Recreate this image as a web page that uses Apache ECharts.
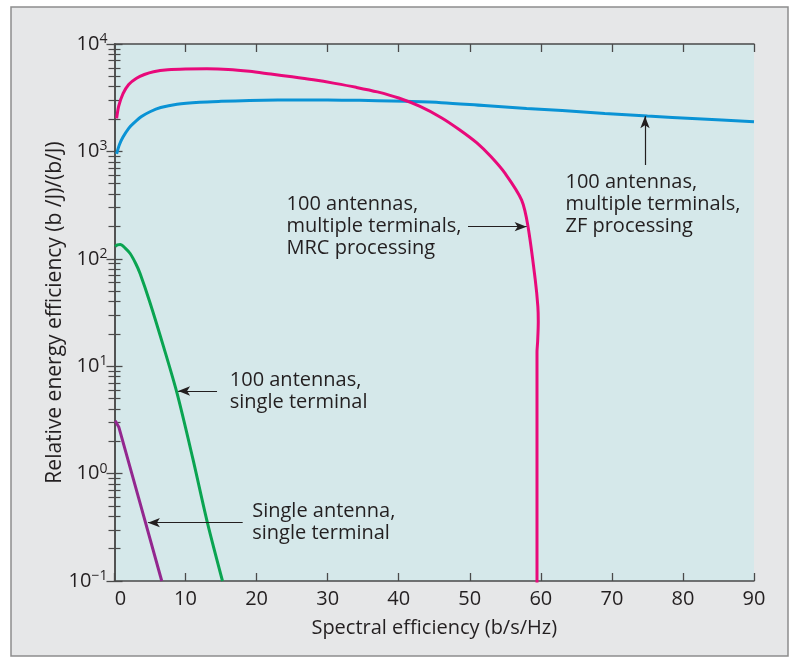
<!DOCTYPE html>
<html>
<head>
<meta charset="utf-8">
<script src="https://cdn.jsdelivr.net/npm/echarts@6/dist/echarts.min.js"></script>
<style>
html,body{margin:0;padding:0;background:#fff;}
#chart{width:797px;height:660px;}
</style>
</head>
<body>
<div id="chart"></div>
<script>
// ---- data ----
const xTicks = [0, 10, 20, 30, 40, 50, 60, 70, 80, 90];
const yTicks = [0.1, 1, 10, 100, 1000, 10000];

const zfX = [0.3, 0.7, 1.2, 2, 2.7, 3.8, 5, 6.5, 8.8, 12, 15, 19, 23, 28, 32, 37, 41, 46, 52, 58, 63, 69, 75, 82, 90];
const zfY = [950, 1160, 1360, 1640, 1830, 2110, 2340, 2560, 2750, 2870, 2925, 2975, 3005, 3010, 3000, 2970, 2925, 2845, 2670, 2510, 2400, 2255, 2135, 2015, 1890];

const mrcX = [0.3, 0.6, 1.2, 2, 3.1, 4.2, 5.5, 7.5, 10, 13, 16, 19, 22, 25, 28, 31, 34, 37, 40, 43, 46, 48.5, 51, 53, 55, 57.3, 58.2, 59.2, 59.58, 59.64, 59.55, 59.46, 59.46];
const mrcY = [2030, 2650, 3450, 4200, 4800, 5200, 5520, 5750, 5850, 5870, 5800, 5570, 5250, 4950, 4640, 4300, 3950, 3580, 3140, 2620, 2060, 1600, 1200, 890, 620, 352, 199, 65, 36, 26, 17, 13.5, 0.01];

const singleTermX = [0.1, 0.4, 0.8, 1.5, 2.2, 3, 3.6, 5, 6.9, 8.8, 11, 13.1, 15.2];
const singleTermY = [130, 135, 136, 126, 112, 90, 73, 39, 15.2, 5.6, 1.4, 0.344, 0.1];

const singleAntX = [0.1, 0.6, 3.6, 6.65];
const singleAntY = [3.1, 2.72, 0.53, 0.1];

const labelZF = '100 antennas,\nmultiple terminals,\nZF processing';
const labelMRC = '100 antennas,\nmultiple terminals,\nMRC processing';
const labelST = '100 antennas,\nsingle terminal';
const labelSA = 'Single antenna,\nsingle terminal';
const xName = 'Spectral efficiency (b/s/Hz)';
const yName = 'Relative energy efficiency (b /J)/(b/J)';

// ---- chart ----
const pairs = (xs, ys) => xs.map((x, i) => [x, ys[i]]);
const TXT = '#231f20';
const AX = '#4a4a4a';
const AXFONT = '"Open Sans", sans-serif';
const ANFONT = '"Open Sans", sans-serif';

function arrowLine(x1, y1, x2, y2) {
  return [{ coord: [x1, y1] }, { coord: [x2, y2] }];
}
function textPoint(x, y, text) {
  return {
    coord: [x, y], symbol: 'circle', symbolSize: 1,
    itemStyle: { color: 'rgba(0,0,0,0)' },
    label: {
      show: true, position: 'right', distance: 0, formatter: text,
      color: TXT, fontFamily: ANFONT, fontSize: 20, lineHeight: 22, align: 'left'
    }
  };
}
const markLineBase = {
  silent: true, symbol: ['none', 'arrow'], symbolSize: [7, 12],
  label: { show: false },
  lineStyle: { color: TXT, width: 1.2, type: 'solid' },
  emphasis: { disabled: true }
};
const markPointBase = { silent: true, emphasis: { disabled: true } };

const supMap = { '4': '4', '3': '3', '2': '2', '1': '1', '0': '0', '-1': '\u22121' };

const chart = echarts.init(document.getElementById('chart'), null, { renderer: 'canvas' });
chart.setOption({
  backgroundColor: '#ffffff',
  animation: false,
  graphic: [{
    type: 'rect', z: -10, silent: true,
    shape: { x: 11, y: 7, width: 777, height: 649 },
    style: { fill: '#e6e7e8', stroke: '#8d8d8d', lineWidth: 1.5 }
  }],
  grid: {
    left: 114.5, right: 43, top: 44, bottom: 79,
    show: true, backgroundColor: '#d5e8ea', borderWidth: 0
  },
  xAxis: [{
    type: 'value', min: xTicks[0], max: xTicks[xTicks.length - 1], interval: 10, position: 'bottom',
    name: xName, nameLocation: 'middle', nameGap: 37,
    nameTextStyle: { color: TXT, fontFamily: AXFONT, fontSize: 20 },
    axisLine: { show: true, lineStyle: { color: AX, width: 1.5 } },
    axisTick: { show: true, inside: true, length: 8, lineStyle: { color: AX, width: 1.3 } },
    splitLine: { show: false },
    axisLabel: {
      color: TXT, fontFamily: AXFONT, fontSize: 20, margin: 8,
      formatter: v => (v === 0 ? '{z|0}' : String(v)),
      rich: { z: { fontFamily: AXFONT, fontSize: 20, color: TXT, padding: [0, 0, 0, 12] } }
    }
  }, {
    type: 'value', min: xTicks[0], max: xTicks[xTicks.length - 1], interval: 10, position: 'top',
    axisLine: { show: true, lineStyle: { color: AX, width: 1.5 } },
    axisTick: { show: true, inside: true, length: 8, lineStyle: { color: AX, width: 1.3 } },
    splitLine: { show: false }, axisLabel: { show: false }
  }],
  yAxis: [{
    type: 'log', logBase: 10, min: yTicks[0], max: yTicks[yTicks.length - 1], position: 'left',
    name: yName, nameLocation: 'middle', nameGap: 49, nameMoveOverlap: false,
    nameTextStyle: { color: TXT, fontFamily: AXFONT, fontSize: 21 },
    axisLine: { show: true, lineStyle: { color: AX, width: 1.5 } },
    axisTick: { show: true, inside: true, length: 8, lineStyle: { color: AX, width: 1.3 } },
    minorTick: { show: true, splitNumber: 9, length: 6, lineStyle: { color: AX, width: 1.2 } },
    splitLine: { show: false }, minorSplitLine: { show: false },
    axisLabel: {
      margin: 7,
      formatter: v => {
        const e = Math.round(Math.log10(v));
        return '{b|10}{s|' + supMap[String(e)] + '}';
      },
      rich: {
        b: { fontFamily: AXFONT, fontSize: 20, color: TXT, lineHeight: 24 },
        s: { fontFamily: AXFONT, fontSize: 14, color: TXT, verticalAlign: 'top', lineHeight: 14 }
      }
    }
  }, {
    type: 'log', logBase: 10, min: yTicks[0], max: yTicks[yTicks.length - 1], position: 'right',
    axisLine: { show: true, lineStyle: { color: AX, width: 1.5 } },
    axisTick: { show: true, inside: true, length: 8, lineStyle: { color: AX, width: 1.3 } },
    minorTick: { show: true, splitNumber: 9, length: 6, lineStyle: { color: AX, width: 1.2 } },
    splitLine: { show: false }, axisLabel: { show: false }
  }],
  series: [{
    name: 'ZF', type: 'line', data: pairs(zfX, zfY), showSymbol: false, smooth: 0.3,
    lineStyle: { color: '#0a93d5', width: 3 }, itemStyle: { color: '#0a93d5' }, z: 3,
    markLine: Object.assign({}, markLineBase, { data: [arrowLine(74.66, 747, 74.66, 2130)] }),
    markPoint: Object.assign({}, markPointBase, { data: [textPoint(63.4, 324, labelZF)] })
  }, {
    name: 'MRC', type: 'line', data: pairs(mrcX, mrcY), showSymbol: false, smooth: 0.3,
    lineStyle: { color: '#e8097a', width: 3 }, itemStyle: { color: '#e8097a' }, z: 4,
    markLine: Object.assign({}, markLineBase, { data: [arrowLine(49.75, 199, 58.0, 199)] }),
    markPoint: Object.assign({}, markPointBase, { data: [textPoint(24.14, 199, labelMRC)] })
  }, {
    name: 'single terminal', type: 'line', data: pairs(singleTermX, singleTermY), showSymbol: false, smooth: 0.3,
    lineStyle: { color: '#0aa451', width: 3 }, itemStyle: { color: '#0aa451' }, z: 3,
    markLine: Object.assign({}, markLineBase, { data: [arrowLine(14.43, 5.875, 8.95, 5.875)] }),
    markPoint: Object.assign({}, markPointBase, { data: [textPoint(16.15, 5.875, labelST)] })
  }, {
    name: 'single antenna', type: 'line', data: pairs(singleAntX, singleAntY), showSymbol: false, smooth: false,
    lineStyle: { color: '#93278f', width: 3 }, itemStyle: { color: '#93278f' }, z: 3,
    markLine: Object.assign({}, markLineBase, { data: [arrowLine(18.04, 0.349, 4.7, 0.349)] }),
    markPoint: Object.assign({}, markPointBase, { data: [textPoint(19.31, 0.349, labelSA)] })
  }]
});
</script>
</body>
</html>
